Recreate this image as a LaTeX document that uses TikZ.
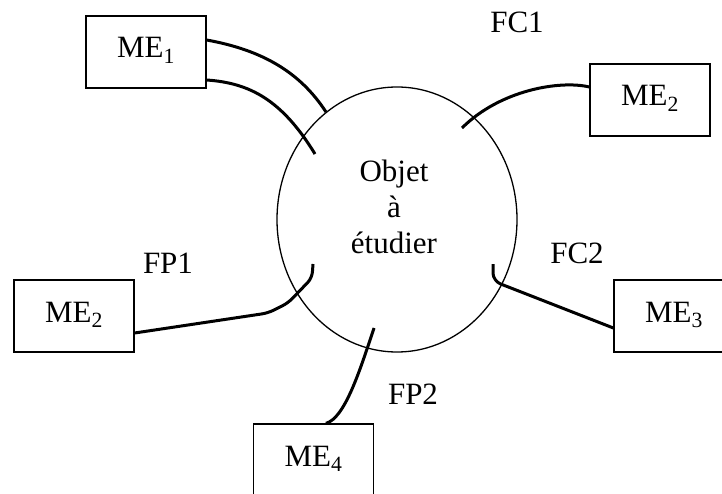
\documentclass[tikz,border=0pt]{standalone}
\usepackage{fontspec}
\setmainfont{Liberation Serif}
\usetikzlibrary{shapes.geometric,calc}
\begin{document}
\begin{tikzpicture}[x=1pt,y=-1pt,
  every node/.style={font=\fontsize{31}{36}\selectfont},
  mebox/.style={draw,line width=1.3pt,minimum width=120pt,minimum height=72pt,
                inner sep=0pt,text height=21pt,text depth=9pt},
  link/.style={line width=3pt},
  tag/.style={anchor=base,inner sep=0pt}]
\useasboundingbox (0,0) rectangle (722,494);

% object under study
\node[ellipse,draw,line width=1.3pt,minimum width=240pt,minimum height=265pt,
      inner sep=0pt] (obj) at (397,219.5) {};
\node[align=center,inner sep=0pt] (objtxt) at (394,207) {Objet\\à\\étudier};

% external media
\node[mebox] (me1)  at (146,52)    {ME\textsubscript{1}};
\node[mebox] (me2r) at (650,100)   {ME\textsubscript{2}};
\node[mebox] (me2l) at (74,316)    {ME\textsubscript{2}};
\node[mebox] (me3)  at (674,316)   {ME\textsubscript{3}};
\node[mebox] (me4)  at (313.5,460) {ME\textsubscript{4}};

% free ends inside the object
\coordinate (e1a) at (326,112);
\coordinate (e1b) at (315,154);
\coordinate (e2)  at (462,128);
\coordinate (e3)  at (313,264);
\coordinate (e4)  at (493,264);
\coordinate (e5)  at (374,328);

% connectors
\draw[link] ($(me1.east)+(0,-12)$) .. controls (262,50) and (300,72) .. (e1a);
\draw[link] ($(me1.east)+(0,28)$) .. controls (250,83) and (282,100) .. (e1b);
\draw[link] ($(me2r.west)+(0,-13)$) .. controls (560,80) and (500,90) .. (e2);
\draw[link,rounded corners=6pt] ($(me2l.east)+(0,17)$) -- (268,313) -- (288,303)
      -- (312,278) -- (e3);
\draw[link,rounded corners=8pt] ($(me3.west)+(0,12)$) -- (493,281) -- (e4);
\draw[link] ($(me4.north)+(12.5,0)$) .. controls (345,418) and (360,370) .. (e5);

% function labels
\node[tag] (fc1) at (517,33)  {FC1};
\node[tag] (fc2) at (577,263) {FC2};
\node[tag] (fp1) at (168,273) {FP1};
\node[tag] (fp2) at (413,404) {FP2};
\end{tikzpicture}
\end{document}
